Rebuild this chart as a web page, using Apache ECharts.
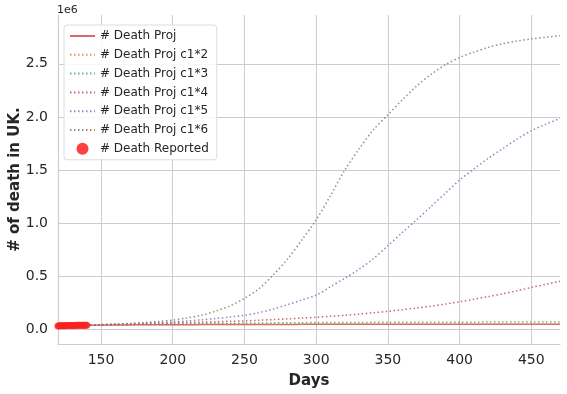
<!DOCTYPE html>
<html>
<head>
<meta charset="utf-8">
<script src="https://cdn.jsdelivr.net/npm/echarts@6/dist/echarts.min.js"></script>
<style>
html,body{margin:0;padding:0;background:#fff;}
#myChart{width:567px;height:394px;}
</style>
</head>
<body>
<div id="myChart"></div>
<script>
// 天数 (每10天一个点)
var days = [120,130,140,150,160,170,180,190,200,210,220,230,240,250,260,270,280,290,300,
            310,320,330,340,350,360,370,380,390,400,410,420,430,440,450,460,470];
// 单位: 1e6
var deathProj = [0.035,0.036,0.037,0.038,0.039,0.040,0.041,0.041,0.042,0.042,0.043,0.043,0.043,0.044,0.044,0.044,0.044,0.045,0.045,
                 0.045,0.045,0.045,0.045,0.045,0.045,0.045,0.045,0.045,0.045,0.045,0.045,0.045,0.045,0.045,0.045,0.045];
var projC2 = [0.035,0.036,0.037,0.038,0.039,0.040,0.041,0.042,0.042,0.043,0.043,0.044,0.044,0.044,0.045,0.045,0.045,0.046,0.046,
              0.046,0.046,0.046,0.047,0.047,0.047,0.047,0.047,0.047,0.047,0.047,0.047,0.047,0.047,0.047,0.047,0.047];
var projC3 = [0.035,0.037,0.039,0.041,0.043,0.045,0.047,0.049,0.051,0.052,0.054,0.055,0.056,0.057,0.058,0.059,0.060,0.061,0.062,
              0.062,0.063,0.063,0.064,0.064,0.065,0.065,0.065,0.066,0.066,0.066,0.067,0.067,0.067,0.067,0.068,0.068];
var projC4 = [0.035,0.037,0.039,0.041,0.044,0.047,0.050,0.054,0.058,0.062,0.066,0.070,0.074,0.078,0.084,0.090,0.097,0.104,0.112,
              0.121,0.131,0.142,0.155,0.168,0.183,0.199,0.216,0.236,0.258,0.281,0.306,0.333,0.361,0.393,0.422,0.452];
var projC5 = [0.035,0.037,0.039,0.042,0.046,0.050,0.055,0.061,0.068,0.077,0.088,0.100,0.115,0.130,0.155,0.190,0.230,0.275,0.320,
              0.400,0.480,0.565,0.665,0.786,0.910,1.030,1.155,1.280,1.405,1.510,1.610,1.700,1.790,1.870,1.930,1.985];
var projC6 = [0.035,0.037,0.039,0.043,0.048,0.054,0.062,0.072,0.085,0.105,0.130,0.170,0.220,0.290,0.380,0.510,0.660,0.840,1.030,
              1.260,1.500,1.700,1.880,2.020,2.160,2.290,2.400,2.490,2.560,2.610,2.655,2.690,2.715,2.735,2.750,2.765];
// 实际报告死亡
var reportDays = [120,121,122,123,124,125,126,127,128,129,130,131,132,133,134,135,136,137,138,139,140];
var reported = [0.0305,0.031,0.0315,0.032,0.0325,0.033,0.0333,0.0336,0.034,0.0344,0.0347,0.035,0.0353,0.0356,0.0359,0.0362,0.0365,0.0367,0.037,0.0372,0.0375];

function pairs(xs, ys){
    var out = [];
    for(var i=0;i<xs.length;i++){
        out.push([xs[i], ys[i]]);
    }
    return out;
}

var fontName = 'DejaVu Sans';
var textColor = '#262626';
var gridColor = '#cccccc';

function projLine(name, data, color, dotted){
    return {
        name: name,
        type: 'line',
        smooth: 0.3,
        symbol: 'none',
        data: pairs(days, data),
        lineStyle: {
            color: color,
            width: 1.5,
            type: dotted ? [1.5, 2.5] : 'solid',
            opacity: dotted ? 0.85 : 0.9
        },
        itemStyle: {color: color}
    };
}

var lineNames = ['# Death Proj', '# Death Proj c1*2', '# Death Proj c1*3', '# Death Proj c1*4',
                 '# Death Proj c1*5', '# Death Proj c1*6'];
var legendData = [];
for(var k=0;k<lineNames.length;k++){
    // 图例只显示线段，不显示圆点
    legendData.push({name: lineNames[k], itemStyle: {opacity: 0}});
}
legendData.push({name: '# Death Reported'});

var myChart = echarts.init(document.getElementById('myChart'));
var option = {
    backgroundColor: '#ffffff',
    animation: false,
    textStyle: {fontFamily: fontName},
    grid: {left: 58, right: 7, top: 15, bottom: 50, containLabel: false, outerBoundsMode: 'none'},
    graphic: [{
        type: 'text',
        left: 57,
        top: 5,
        style: {text: '1e6', fontSize: 11, fill: textColor, fontFamily: fontName}
    }],
    legend: {
        orient: 'vertical',
        left: 64,
        top: 25,
        backgroundColor: 'rgba(255,255,255,0.85)',
        borderColor: '#dddddd',
        borderWidth: 1,
        borderRadius: 3,
        padding: [5, 8, 5, 5],
        itemWidth: 25,
        itemHeight: 12,
        itemGap: 6.8,
        textStyle: {fontSize: 12, color: textColor, fontFamily: fontName},
        data: legendData
    },
    xAxis: {
        type: 'value',
        min: 120,
        max: 470,
        splitNumber: 7,
        name: 'Days',
        nameLocation: 'middle',
        nameGap: 30,
        nameTextStyle: {fontSize: 15, fontWeight: 'bold', color: textColor, fontFamily: fontName},
        axisLine: {show: true, onZero: false, lineStyle: {color: gridColor, width: 1.2}},
        axisTick: {show: false},
        axisLabel: {
            fontSize: 14, color: textColor, margin: 9, fontFamily: fontName,
            formatter: function(v){ return (v % 50 === 0) ? String(v) : ''; }
        },
        splitLine: {show: true, showMinLine: false, showMaxLine: false, lineStyle: {color: gridColor, width: 1}}
    },
    yAxis: {
        type: 'value',
        min: -0.14,
        max: 2.96,
        splitNumber: 6,
        name: '# of death in UK.',
        nameLocation: 'middle',
        nameGap: 35,
        nameMoveOverlap: false,
        nameRotate: 90,
        nameTextStyle: {fontSize: 15, fontWeight: 'bold', color: textColor, fontFamily: fontName},
        axisLine: {show: true, onZero: false, lineStyle: {color: gridColor, width: 1.2}},
        axisTick: {show: false},
        axisLabel: {
            fontSize: 14, color: textColor, margin: 10, fontFamily: fontName,
            formatter: function(v){
                return Math.abs(Math.round(v * 2) - v * 2) < 1e-6 ? v.toFixed(1) : '';
            }
        },
        splitLine: {show: true, showMinLine: false, showMaxLine: false, lineStyle: {color: gridColor, width: 1}}
    },
    series: [
        projLine(lineNames[0], deathProj, '#d9565b', false),
        projLine(lineNames[1], projC2, '#dd8452', true),
        projLine(lineNames[2], projC3, '#55a868', true),
        projLine(lineNames[3], projC4, '#c44e52', true),
        projLine(lineNames[4], projC5, '#8172b3', true),
        projLine(lineNames[5], projC6, '#937860', true),
        {
            name: '# Death Reported',
            type: 'scatter',
            symbol: 'circle',
            symbolSize: 7,
            data: pairs(reportDays, reported),
            itemStyle: {color: '#ff2020', opacity: 0.85},
            z: 5
        }
    ]
};
myChart.setOption(option);
window.onresize = myChart.resize;
</script>
</body>
</html>
